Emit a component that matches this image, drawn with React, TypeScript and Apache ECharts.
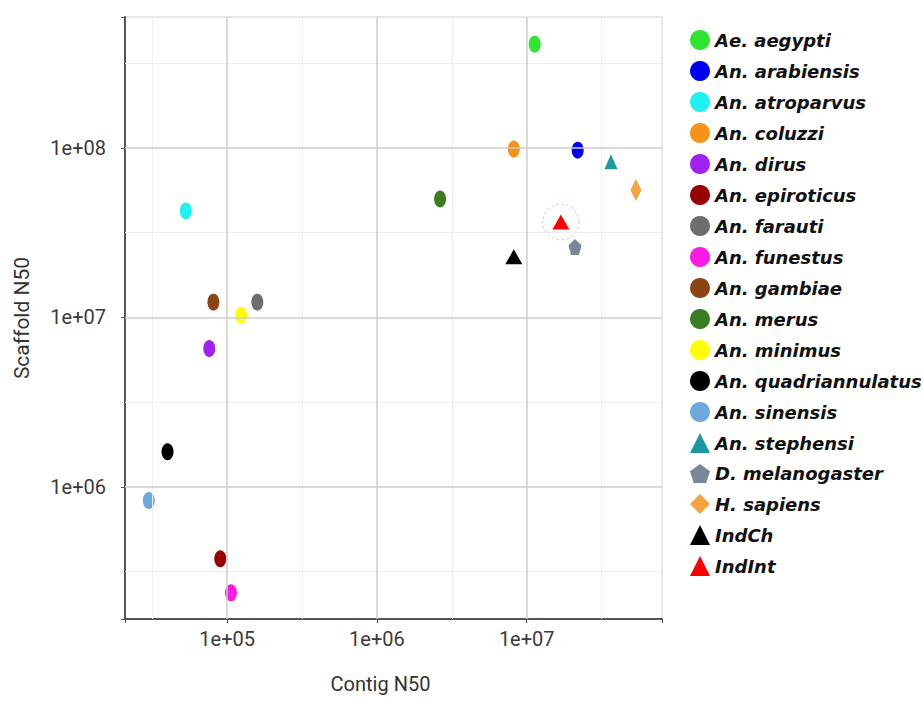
import React, { useEffect, useRef } from "react";
import * as echarts from "echarts";

const species = [
  "Ae. aegypti", "An. arabiensis", "An. atroparvus", "An. coluzzi", "An. dirus",
  "An. epiroticus", "An. farauti", "An. funestus", "An. gambiae", "An. merus",
  "An. minimus", "An. quadriannulatus", "An. sinensis", "An. stephensi",
  "D. melanogaster", "H. sapiens", "IndCh", "IndInt",
];
const contigN50 = [
  1.13e7, 2.19e7, 5.3e4, 8.2e6, 7.6e4,
  9.0e4, 1.59e5, 1.06e5, 8.1e4, 2.64e6,
  1.24e5, 4.0e4, 3.0e4, 3.65e7,
  2.1e7, 5.36e7, 8.2e6, 1.69e7,
];
const scaffoldN50 = [
  4.1e8, 9.7e7, 4.25e7, 9.85e7, 6.55e6,
  3.76e5, 1.23e7, 2.37e5, 1.23e7, 5.0e7,
  1.03e7, 1.61e6, 8.3e5, 8.3e7,
  2.6e7, 5.65e7, 2.28e7, 3.66e7,
];
const colors = [
  "#2fe52f", "#0000ee", "#1ff0f0", "#f39418", "#a020f0",
  "#990000", "#6e6e6e", "#ff1ae8", "#8b4513", "#3a7d22",
  "#ffff00", "#000000", "#6fa8dc", "#1a9aa0",
  "#778899", "#f4a340", "#000000", "#ff0000",
];
const PENTAGON = "path://M0,-10L9.5,-3.1L5.9,8.1L-5.9,8.1L-9.5,-3.1Z";
const shapes = [
  "circle", "circle", "circle", "circle", "circle",
  "circle", "circle", "circle", "circle", "circle",
  "circle", "circle", "circle", "triangle",
  PENTAGON, "diamond", "triangle", "triangle",
];
const sizes: any[] = [
  [12, 17], [12, 17], [12, 17], [12, 17], [12, 17],
  [12, 17], [12, 17], [12, 17], [12, 17], [12, 17],
  [12, 17], [12, 17], [12, 17], [13, 15],
  [13, 16], [11, 22], [17, 15], [17, 15],
];
const highlighted = "IndInt";

const majorX = [1e5, 1e6, 1e7];
const minorX = [3.1623e4, 3.1623e5, 3.1623e6, 3.1623e7];
const majorY = [1e6, 1e7, 1e8];
const minorY = [3.1623e5, 3.1623e6, 3.1623e7, 3.1623e8];

const AXIS_FONT = 'Roboto, "DejaVu Sans", sans-serif';

function fmtPow(v: number) {
  const e = Math.log10(v);
  const r = Math.round(e);
  if (Math.abs(e - r) > 1e-6) return "";
  return "1e+" + String(r).padStart(2, "0");
}

export default function App() {
  const ref = useRef<HTMLDivElement>(null);
  useEffect(() => {
    if (!ref.current) return;
    const chart = echarts.init(ref.current, undefined, { renderer: "svg" });
    const seriesList: any[] = species.map((name, i) => ({
      type: "scatter",
      name,
      data: [[contigN50[i], scaffoldN50[i]]],
      symbol: shapes[i],
      symbolSize: sizes[i],
      itemStyle: { color: colors[i], opacity: 1 },
      z: 3,
    }));
    const hi = species.indexOf(highlighted);
    seriesList.push({
      type: "scatter",
      name: "__circle",
      data: [[contigN50[hi], scaffoldN50[hi]]],
      symbol: "circle",
      symbolSize: 36,
      itemStyle: { color: "rgba(0,0,0,0)", borderColor: "#f29a9a", borderWidth: 1, borderType: [2, 3] },
      z: 2,
      silent: true,
    });
    const mk = (axis: string, vals: number[], color: string, width: number) =>
      vals.map((v) => ({ [axis]: v, lineStyle: { color, width, type: "solid" } }));
    seriesList.push({
      type: "scatter",
      name: "__grid",
      data: [],
      z: 1,
      silent: true,
      markLine: {
        silent: true,
        symbol: ["none", "none"],
        label: { show: false },
        animation: false,
        data: [
          ...mk("xAxis", minorX, "#efefef", 1),
          ...mk("yAxis", minorY, "#efefef", 1),
          ...mk("xAxis", majorX, "#cdcdcd", 1.5),
          ...mk("yAxis", majorY, "#cdcdcd", 1.5),
        ],
      },
    });
    chart.setOption({
      animation: false,
      backgroundColor: "#ffffff",
      grid: {
        left: 125, right: 261, top: 17, bottom: 83,
        show: true, borderColor: "#cfcfcf", borderWidth: 1, backgroundColor: "#ffffff",
      },
      legend: {
        data: species,
        orient: "vertical",
        left: 685,
        top: 25,
        itemWidth: 20,
        itemHeight: 20,
        itemGap: 11,
        textStyle: {
          fontFamily: '"DejaVu Sans", sans-serif',
          fontWeight: "bold",
          fontStyle: "italic",
          fontSize: 18,
          color: "#111111",
        },
      },
      xAxis: {
        type: "log",
        logBase: 10,
        min: 2.08e4,
        max: 8.0e7,
        name: "Contig N50",
        nameLocation: "middle",
        nameGap: 55,
        nameTextStyle: { fontFamily: AXIS_FONT, fontSize: 20, color: "#333333", padding: [0, 26, 0, 0] },
        splitLine: { show: false },
        minorSplitLine: { show: false },
        axisLine: { show: true, lineStyle: { color: "#555555", width: 2 } },
        axisTick: { show: true, length: 4, lineStyle: { color: "#555555" } },
        axisLabel: { formatter: fmtPow, fontFamily: AXIS_FONT, fontSize: 20, color: "#3a3a3a", margin: 10 },
      },
      yAxis: {
        type: "log",
        logBase: 10,
        min: 1.66e5,
        max: 5.93e8,
        name: "Scaffold N50",
        nameLocation: "middle",
        nameGap: 93,
        nameTextStyle: { fontFamily: AXIS_FONT, fontSize: 21, color: "#333333" },
        splitLine: { show: false },
        minorSplitLine: { show: false },
        axisLine: { show: true, lineStyle: { color: "#555555", width: 2 } },
        axisTick: { show: true, length: 4, lineStyle: { color: "#555555" } },
        axisLabel: { formatter: fmtPow, fontFamily: AXIS_FONT, fontSize: 20, color: "#3a3a3a", margin: 19 },
      },
      series: seriesList,
    });
    return () => chart.dispose();
  }, []);
  return <div ref={ref} style={{ width: 923, height: 702, position: "absolute", left: 0, top: 0 }} />;
}
